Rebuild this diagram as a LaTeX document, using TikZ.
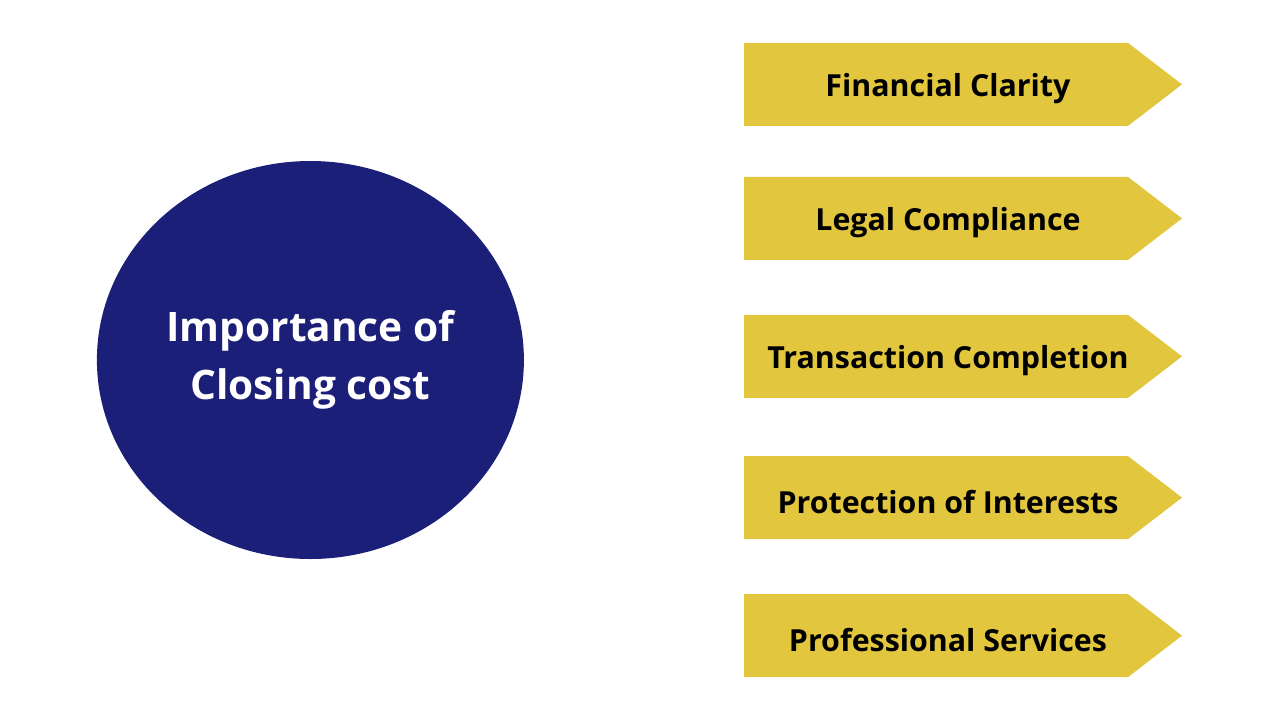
\documentclass[tikz,border=0pt]{standalone}
\usepackage{fontspec}
\setmainfont{Open Sans}
\usetikzlibrary{positioning, calc, shapes.geometric}
\definecolor{hubfill}{HTML}{1C1F78}
\definecolor{tagfill}{HTML}{E2C73E}
\tikzset{
  hub/.style={ellipse, fill=hubfill, minimum width=10.675cm, minimum height=9.95cm,
              text=white, align=center, font=\fontsize{28.9}{41}\selectfont\bfseries},
  tag/.style={font=\fontsize{21.6}{25}\selectfont\bfseries, text=black},
}
\def\tagw{9.6cm}   % body of the tag
\def\tagh{2.075cm}
\def\tagtip{1.35cm}

\begin{document}
\begin{tikzpicture}
\useasboundingbox (0,0) rectangle (32,-18);

% Centre
\node[hub] (hub) at (7.76,-9.0) {Importance of\\Closing cost};

% Tags on the right
\foreach \n/\y/\t in {fin/-2.11/Financial Clarity, leg/-5.46/Legal Compliance,
                      tra/-8.91/Transaction Completion, pro/-12.44/Protection of Interests,
                      ser/-15.89/Professional Services} {
  \coordinate (\n w) at (18.6,\y);
  \fill[tagfill] ($(\n w)+(0,0.5*\tagh)$) -- ++(\tagw,0) -- ++(\tagtip,-0.5*\tagh)
     -- ++(-\tagtip,-0.5*\tagh) -- ++(-\tagw,0) -- cycle;
  \node[tag, yshift=-0.1cm] (\n) at (23.7,\y) {\t};
}

\end{tikzpicture}
\end{document}
